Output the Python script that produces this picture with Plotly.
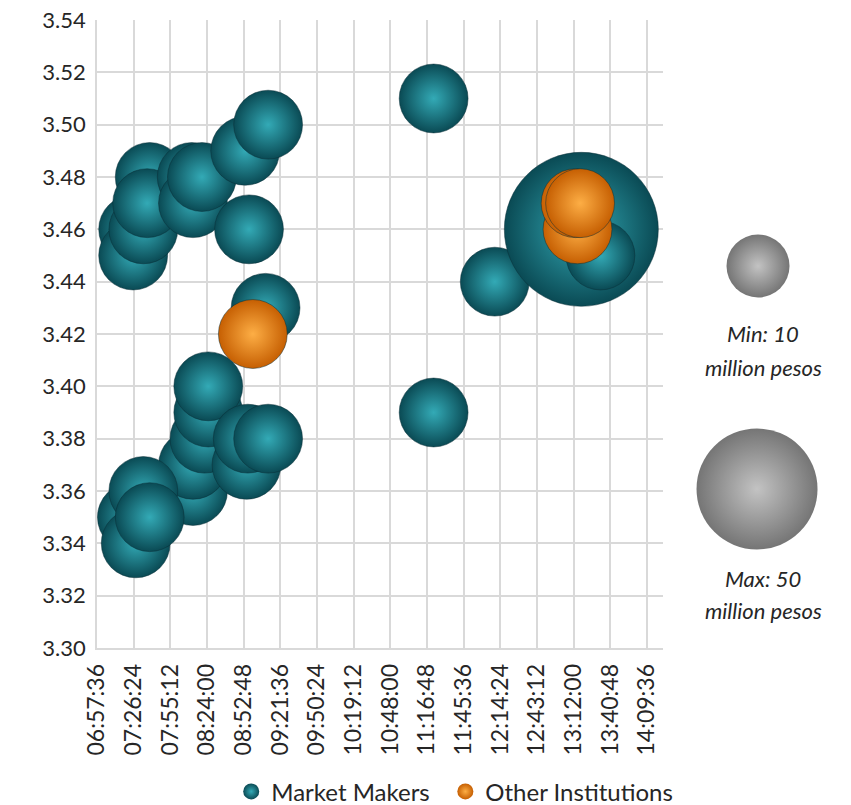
import plotly.graph_objects as go

DATE = "2000-01-01 "

# ---- data -------------------------------------------------------------
mm_time = ["07:39:00", "07:26:00", "07:26:00", "07:34:00", "07:37:00",
           "08:12:00", "08:13:00", "08:20:00", "08:54:00", "09:12:00", "08:57:00", "09:10:00",
           "08:13:00", "08:13:00", "08:22:00", "08:25:00", "08:25:00",
           "08:55:00", "08:56:00", "09:12:00",
           "07:25:00", "07:28:00", "07:34:00", "07:39:00",
           "11:22:00", "11:22:00", "12:10:00", "13:18:00", "13:33:00"]
mm_price = [3.48, 3.46, 3.45, 3.46, 3.47,
            3.48, 3.47, 3.48, 3.49, 3.50, 3.46, 3.43,
            3.36, 3.37, 3.38, 3.39, 3.40,
            3.37, 3.38, 3.38,
            3.35, 3.34, 3.36, 3.35,
            3.51, 3.39, 3.44, 3.46, 3.45]
mm_volume = [10, 10, 10, 10, 10,
             10, 10, 10, 10, 10, 10, 10,
             10, 10, 10, 10, 10,
             10, 10, 10,
             10, 10, 10, 10,
             10, 10, 10, 50, 10]

oi_time = ["09:00:00", "13:15:00", "13:13:30", "13:17:00"]
oi_price = [3.42, 3.46, 3.47, 3.47]
oi_volume = [10, 10, 10, 10]

x_tick_labels = ["06:57:36", "07:26:24", "07:55:12", "08:24:00", "08:52:48", "09:21:36",
                 "09:50:24", "10:19:12", "10:48:00", "11:16:48", "11:45:36", "12:14:24",
                 "12:43:12", "13:12:00", "13:40:48", "14:09:36"]
y_tick_values = [3.30, 3.32, 3.34, 3.36, 3.38, 3.40, 3.42, 3.44, 3.46, 3.48, 3.50, 3.52, 3.54]

series_names = ["Market Makers", "Other Institutions"]
scale_volumes = [10, 50]
scale_titles = ["Min: 10", "Max: 50"]
scale_unit = "million pesos"

# ---- styles -----------------------------------------------------------
FONT = "Lato, 'Open Sans', sans-serif"
TXT = "#262626"
GRID = "#d9d9d9"
TEAL_EDGE, TEAL_CENTER = "#0a4a54", "#33aab6"
ORANGE_EDGE, ORANGE_CENTER = "#c65f02", "#fdae45"
GRAY_EDGE, GRAY_CENTER = "#3a3a3a", "#a9a9a9"

max_diam = 154
sizeref = 2.0 * max(mm_volume + oi_volume) / (max_diam ** 2)

fig = go.Figure()


def bubbles(times, prices, vols, edge, center, name):
    return go.Scatter(
        x=[DATE + t for t in times], y=prices, mode="markers", name=name,
        showlegend=False, hoverinfo="x+y+text", text=[str(v) for v in vols],
        marker=dict(size=vols, sizemode="area", sizeref=sizeref, color=edge,
                    gradient=dict(type="radial", color=center),
                    line=dict(width=0.8, color="rgba(8,45,52,0.6)"), opacity=1),
    )


fig.add_trace(bubbles(mm_time, mm_price, mm_volume, TEAL_EDGE, TEAL_CENTER, series_names[0]))
fig.add_trace(bubbles(oi_time, oi_price, oi_volume, ORANGE_EDGE, ORANGE_CENTER, series_names[1]))

# legend entries (one legend box per series so each can be placed like the original)
for nm, edge, center, lg in [(series_names[0], TEAL_EDGE, TEAL_CENTER, "legend"),
                             (series_names[1], ORANGE_EDGE, ORANGE_CENTER, "legend2")]:
    fig.add_trace(go.Scatter(x=[None], y=[None], mode="markers", name=nm, showlegend=True,
                             legend=lg,
                             marker=dict(size=16, color=edge,
                                         gradient=dict(type="radial", color=center))))

# size-scale spheres on the right (pixel-like helper axes)
scale_px_y = [266, 489]
scale_px_d = [63, 121]
fig.add_trace(go.Scatter(
    x=[758, 757], y=scale_px_y, xaxis="x2", yaxis="y2", mode="markers", showlegend=False,
    hoverinfo="skip",
    marker=dict(size=scale_px_d, color=GRAY_EDGE, gradient=dict(type="radial", color=GRAY_CENTER),
                line=dict(width=0)),
))

annotations = []
for title, (y1, y2) in zip(scale_titles, [(333, 367), (578, 610)]):
    annotations.append(dict(x=763, y=y1, xref="x2", yref="y2", text=f"<i>{title}</i>",
                            showarrow=False, font=dict(size=22, color=TXT, family=FONT)))
    annotations.append(dict(x=763, y=y2, xref="x2", yref="y2", text=f"<i>{scale_unit}</i>",
                            showarrow=False, font=dict(size=22, color=TXT, family=FONT)))

legend_common = dict(orientation="h", xanchor="left", y=-0.229, yanchor="middle",
                     font=dict(size=24, color=TXT, family=FONT), itemsizing="trace",
                     bgcolor="rgba(0,0,0,0)")

fig.update_layout(
    width=851, height=805,
    margin=dict(l=97, r=0, t=20, b=157, autoexpand=False),
    paper_bgcolor="white", plot_bgcolor="white",
    font=dict(family=FONT, size=22, color=TXT),
    xaxis=dict(
        type="date", domain=[0, 0.7507], automargin=False,
        range=[DATE + "06:57:36", DATE + "14:22:10"],
        tickvals=[DATE + t for t in x_tick_labels], ticktext=x_tick_labels,
        tickangle=-90, showgrid=True, gridcolor=GRID, gridwidth=1.5,
        showline=True, linecolor=GRID, linewidth=1.5, ticks="", zeroline=False,
        tickfont=dict(size=23, color=TXT, family=FONT), ticklabelstandoff=5,
    ),
    yaxis=dict(
        range=[3.30, 3.54], tickvals=y_tick_values, tickformat=".2f", automargin=False,
        showgrid=True, gridcolor=GRID, gridwidth=1.5,
        showline=True, linecolor=GRID, linewidth=1.5, ticks="", zeroline=False,
        tickfont=dict(size=22, color=TXT, family=FONT), ticklabelstandoff=5,
    ),
    xaxis2=dict(domain=[0.76, 1.0], range=[670, 851], visible=False, anchor="y2"),
    yaxis2=dict(domain=[0, 1], range=[648, 20], visible=False, anchor="x2"),
    legend=dict(x=0.178, **legend_common),
    legend2=dict(x=0.462, **legend_common),
    annotations=annotations,
)

fig.write_html("out.html", config={"displayModeBar": False},
               post_script="document.body.style.margin='0px';document.body.style.overflow='hidden';")
